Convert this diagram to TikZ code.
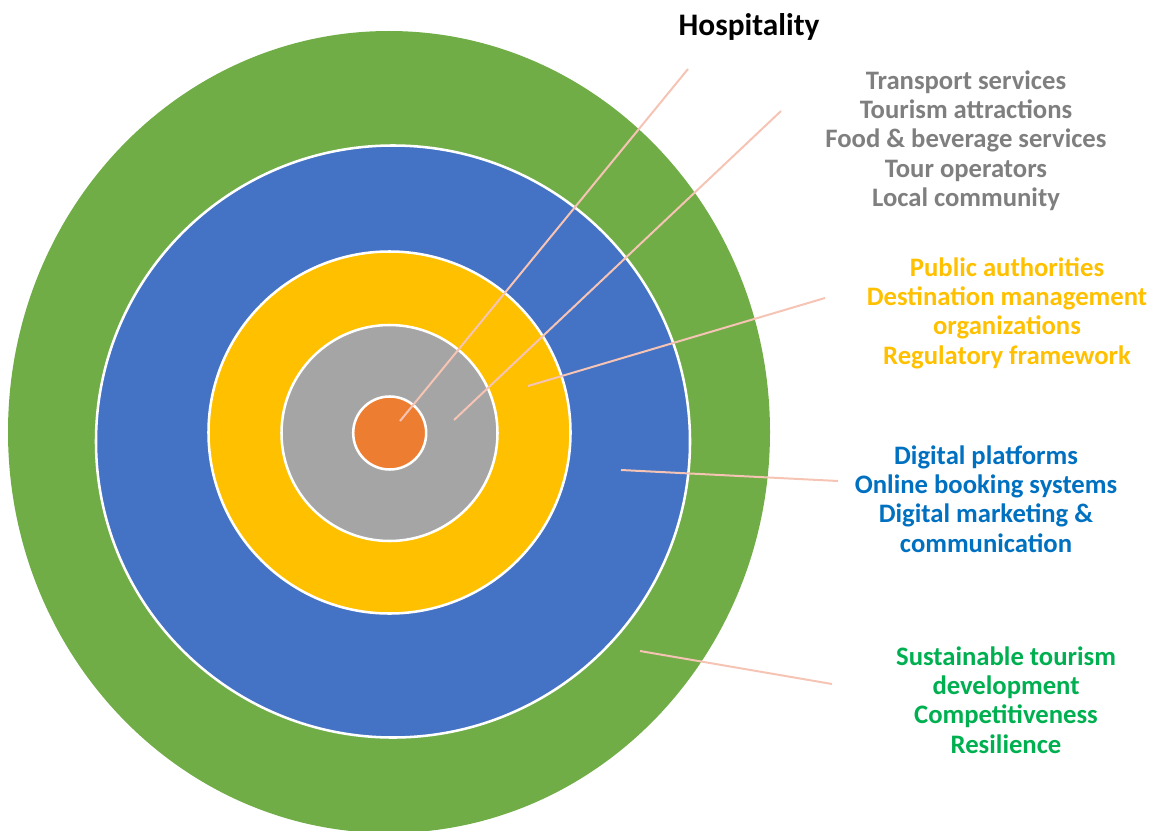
\documentclass[tikz,border=0pt]{standalone}
\usepackage{fontspec}
\setmainfont{Carlito}
\begin{document}
\begin{tikzpicture}[x=0.75pt,y=-0.75pt,
  ring/.style={draw=white,line width=1.9pt},
  leader/.style={draw=leadercol,line width=1.5pt},
  label/.style={font=\bfseries\fontsize{20}{22}\selectfont,align=center,inner sep=0pt}]
\definecolor{greenring}{HTML}{70AD47}
\definecolor{bluering}{HTML}{4472C4}
\definecolor{yellowring}{HTML}{FFC000}
\definecolor{grayring}{HTML}{A5A5A5}
\definecolor{orangering}{HTML}{ED7D31}
\definecolor{leadercol}{HTML}{F6C4B4}
\definecolor{graytext}{HTML}{7F7F7F}
\definecolor{yellowtext}{HTML}{FFC000}
\definecolor{bluetext}{HTML}{0070C0}
\definecolor{greentext}{HTML}{00B050}

\clip (0,0) rectangle (1152,831);
\useasboundingbox (0,0) rectangle (1152,831);

% concentric rings, outer to inner
\fill[greenring] (389,432) ellipse [x radius=381*0.75pt, y radius=401*0.75pt];
\filldraw[ring,fill=bluering] (393,441.5) ellipse [x radius=297*0.75pt, y radius=296*0.75pt];
\filldraw[ring,fill=yellowring] (389.5,432.5) circle [radius=181*0.75pt];
\filldraw[ring,fill=grayring] (389.5,433) circle [radius=108*0.75pt];
\filldraw[ring,fill=orangering] (389.7,433) circle [radius=36.5*0.75pt];

% labels
\node[font=\bfseries\fontsize{23.5}{26}\selectfont,inner sep=0pt] (hosp) at (749,27) {Hospitality};
\node[label,text=graytext] (services) at (966,140.5)
  {Transport services\\Tourism attractions\\Food \& beverage services\\Tour operators\\Local community};
\node[label,text=yellowtext] (authorities) at (1007,313)
  {Public authorities\\Destination management\\organizations\\Regulatory framework};
\node[label,text=bluetext] (digital) at (986,499)
  {Digital platforms\\Online booking systems\\Digital marketing \&\\communication};
\node[label,text=greentext] (outcomes) at (1006,700)
  {Sustainable tourism\\development\\Competitiveness\\Resilience};

% leader line end points
\coordinate (c1a) at (400,421);  \coordinate (c1b) at (688,69);
\coordinate (c2a) at (454,420);  \coordinate (c2b) at (781,111);
\coordinate (c3a) at (528,386);  \coordinate (c3b) at (825,298);
\coordinate (c4a) at (621,470);  \coordinate (c4b) at (838,481);
\coordinate (c5a) at (640,651);  \coordinate (c5b) at (832,684);

\draw[leader] (c1a) -- (c1b);
\draw[leader] (c2a) -- (c2b);
\draw[leader] (c3a) -- (c3b);
\draw[leader] (c4a) -- (c4b);
\draw[leader] (c5a) -- (c5b);
\end{tikzpicture}
\end{document}
